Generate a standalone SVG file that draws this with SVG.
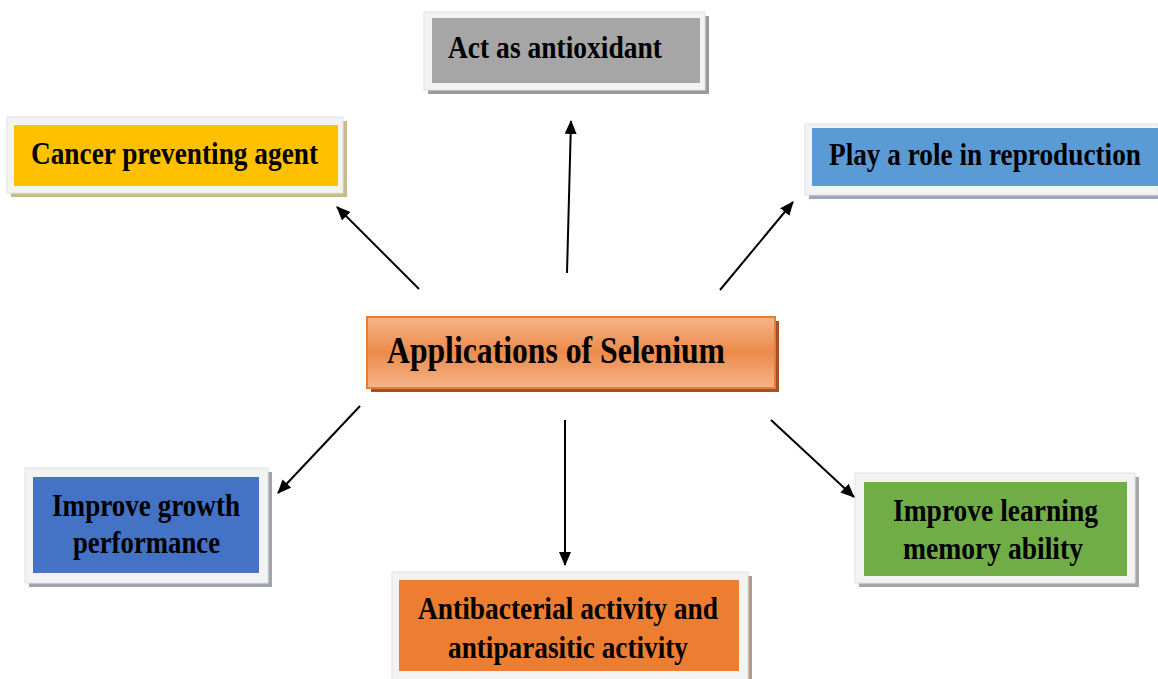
<svg xmlns="http://www.w3.org/2000/svg" width="1158" height="679" viewBox="0 0 1158 679">
<style>
.frame{fill:#f3f3f3;stroke:#e2e2e2;stroke-width:1}
.t{font-family:"Liberation Serif","Times New Roman",serif;font-weight:bold;font-size:32px;fill:#000;text-anchor:start}
.big{font-size:37px}
.conn line{stroke:#000;stroke-width:2;marker-end:url(#ah)}
</style>
<defs>
<marker id="ah" viewBox="0 0 14 12" refX="13" refY="6" markerWidth="14" markerHeight="12" markerUnits="userSpaceOnUse" orient="auto">
<path d="M0,0 L14,6 L0,12 z" fill="#000"/>
</marker>
<linearGradient id="og" x1="0" y1="0" x2="0" y2="1">
<stop offset="0" stop-color="#F6B58A"/>
<stop offset="0.5" stop-color="#EC8A4B"/>
<stop offset="1" stop-color="#F6B58A"/>
</linearGradient>
</defs>
<rect width="1158" height="679" fill="#fff"/>

<g id="antioxidant">
<rect x="428" y="16" width="281" height="78" fill="#9a9a9a"/>
<rect class="frame" x="424" y="12" width="281" height="78"/>
<rect x="432" y="18" width="268" height="65" fill="#a6a6a6"/>
<text class="t" x="448" y="58" textLength="214" lengthAdjust="spacingAndGlyphs">Act as antioxidant</text>
</g>

<g id="cancer">
<rect x="11" y="121" width="336" height="76" fill="#C9B98B"/>
<rect class="frame" x="7" y="117" width="336" height="76"/>
<rect x="14" y="125" width="324" height="61" fill="#FFC000"/>
<text class="t" x="31" y="164" textLength="287" lengthAdjust="spacingAndGlyphs">Cancer preventing agent</text>
</g>

<g id="reproduction">
<rect x="809" y="129" width="349" height="70" fill="#9AA9BA"/>
<rect class="frame" x="805" y="124" width="353" height="71"/>
<rect x="812" y="128" width="346" height="58" fill="#5B9BD5"/>
<text class="t" transform="translate(829 165) scale(0.85 1)" x="0" y="0" textLength="367" lengthAdjust="spacingAndGlyphs">Play a role in reproduction</text>
</g>

<g id="center">
<rect x="371" y="321" width="408" height="71" fill="#A0522D"/>
<rect x="367" y="317" width="408" height="71" fill="url(#og)" stroke="#E97B35" stroke-width="2"/>
<text class="t big" x="387" y="363" textLength="338" lengthAdjust="spacingAndGlyphs">Applications of Selenium</text>
</g>

<g id="growth">
<rect x="29" y="472" width="243" height="115" fill="#A0A4AE"/>
<rect class="frame" x="25" y="468" width="243" height="115"/>
<rect x="33" y="477" width="226" height="96" fill="#4472C4"/>
<text class="t" x="52" y="516" textLength="188" lengthAdjust="spacingAndGlyphs">Improve growth</text>
<text class="t" x="73" y="553" textLength="147" lengthAdjust="spacingAndGlyphs">performance</text>
</g>

<g id="antibacterial">
<rect x="396" y="576" width="356" height="110" fill="#B09A88"/>
<rect class="frame" x="392" y="572" width="356" height="110"/>
<rect x="399" y="580" width="340" height="91" fill="#ED7D31"/>
<text class="t" x="418" y="619" textLength="300" lengthAdjust="spacingAndGlyphs">Antibacterial activity and</text>
<text class="t" x="448" y="658" textLength="240" lengthAdjust="spacingAndGlyphs">antiparasitic activity</text>
</g>

<g id="learning">
<rect x="859" y="477" width="280" height="110" fill="#A4A8A0"/>
<rect class="frame" x="855" y="473" width="280" height="110"/>
<rect x="864" y="482" width="263" height="94" fill="#70AD47"/>
<text class="t" x="893" y="521" textLength="205" lengthAdjust="spacingAndGlyphs">Improve learning</text>
<text class="t" x="903" y="559" textLength="180" lengthAdjust="spacingAndGlyphs">memory ability</text>
</g>

<g id="connectors" class="conn">
<line x1="567" y1="273" x2="571" y2="121"/>
<line x1="419" y1="289" x2="337" y2="207"/>
<line x1="720" y1="290" x2="793" y2="202"/>
<line x1="360" y1="406" x2="278" y2="493"/>
<line x1="565" y1="420" x2="565" y2="565"/>
<line x1="771" y1="420" x2="854" y2="497"/>
</g>
</svg>
